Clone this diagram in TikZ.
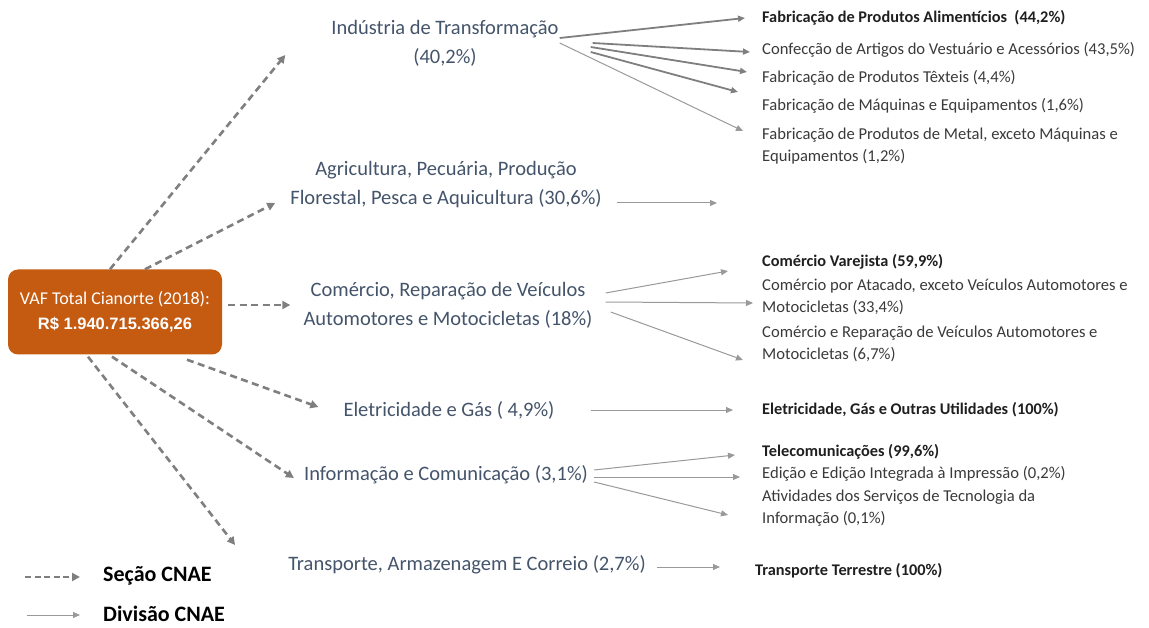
\documentclass[tikz,border=0pt]{standalone}
\usepackage{fontspec}
\setmainfont{Carlito}
\newfontfamily\arialfont{Liberation Sans}
\usetikzlibrary{arrows.meta}
\definecolor{vafOrange}{HTML}{C55A11}
\definecolor{secText}{HTML}{44546A}
\definecolor{divText}{HTML}{3A3A3A}
\definecolor{lineGray}{HTML}{7F7F7F}
\tikzset{
  secao/.style={draw=lineGray,line width=2.6pt,dash pattern=on 7pt off 4.5pt,-{Triangle[length=8pt,width=8pt]}},
  divisao/.style={draw=lineGray!80,line width=1pt,-{Triangle[length=7pt,width=6pt]}},
  divforte/.style={divisao,draw=lineGray,line width=1.8pt},
  secnode/.style={text=secText,font=\fontsize{20.5}{29}\selectfont,align=center,inner sep=1pt},
  divnode/.style={text=divText,font=\fontsize{16.6}{22}\selectfont,align=left,anchor=west,inner sep=0pt},
  divbold/.style={divnode,text=black!88,font=\fontsize{16.3}{22}\selectfont\bfseries},
  legnode/.style={anchor=west,inner sep=0pt,font=\fontsize{22}{24}\selectfont\bfseries},
}
\begin{document}
\begin{tikzpicture}[x=1pt,y=-1pt,line join=round]
  \useasboundingbox (0,0) rectangle (1149,628);
  % total
  \node[fill=vafOrange,rounded corners=10pt,minimum width=214pt,minimum height=85pt,
        text=white,align=center,font=\fontsize{18}{25}\selectfont] (vaf) at (115,312)
        {VAF Total Cianorte (2018):\\{\arialfont\bfseries\fontsize{16.5}{25}\selectfont R\$ 1.940.715.366,26}};
  % secoes
  \node[secnode] (ind) at (445,43) {Indústria de Transformação\\(40,2\%)};
  \node[secnode] (agr) at (446,185) {Agricultura, Pecuária, Produção\\Florestal, Pesca e Aquicultura (30,6\%)};
  \node[secnode] (com) at (448,305) {Comércio, Reparação de Veículos\\Automotores e Motocicletas (18\%)};
  \node[secnode] (ele) at (449,410) {Eletricidade e Gás ( 4,9\%)};
  \node[secnode] (inf) at (446,475) {Informação e Comunicação (3,1\%)};
  \node[secnode] (tra) at (467,565) {Transporte, Armazenagem E Correio (2,7\%)};
  % divisoes
  \node[divbold] (d-ali) at (762,18) {Fabricação de Produtos Alimentícios~~(44,2\%)};
  \node[divnode] (d-con) at (762,50) {Confecção de Artigos do Vestuário e Acessórios (43,5\%)};
  \node[divnode] (d-tex) at (762,78) {Fabricação de Produtos Têxteis (4,4\%)};
  \node[divnode] (d-maq) at (762,106) {Fabricação de Máquinas e Equipamentos (1,6\%)};
  \node[divnode] (d-met) at (762,146) {Fabricação de Produtos de Metal, exceto Máquinas e\\Equipamentos (1,2\%)};
  \node[divbold] (d-var) at (762,262) {Comércio Varejista (59,9\%)};
  \node[divnode] (d-ata) at (762,297) {Comércio por Atacado, exceto Veículos Automotores e\\Motocicletas (33,4\%)};
  \node[divnode] (d-rep) at (762,344) {Comércio e Reparação de Veículos Automotores e\\Motocicletas (6,7\%)};
  \node[divbold] (d-egu) at (762,410) {Eletricidade, Gás e Outras Utilidades (100\%)};
  \node[divbold] (d-tel) at (762,452) {Telecomunicações (99,6\%)};
  \node[divnode] (d-edi) at (762,474) {Edição e Edição Integrada à Impressão (0,2\%)};
  \node[divnode] (d-ati) at (762,508) {Atividades dos Serviços de Tecnologia da\\Informação (0,1\%)};
  \node[divbold] (d-ter) at (755,571) {Transporte Terrestre (100\%)};
  \coordinate (agr-fim) at (717,203);
  % total -> secoes
  \draw[secao] ([xshift=-5pt]vaf.north) -- ([xshift=-45pt,yshift=-12pt]ind.west);
  \draw[secao] ([xshift=30pt]vaf.north) -- ([xshift=-14pt,yshift=-18pt]agr.west);
  \draw[secao] ([xshift=6pt,yshift=7pt]vaf.east) -- ([xshift=-12pt]com.west);
  \draw[secao] ([xshift=72pt,yshift=-5pt]vaf.south) -- ([xshift=-24pt,yshift=3pt]ele.west);
  \draw[secao] ([xshift=-3pt,yshift=-2pt]vaf.south) -- ([xshift=-9pt,yshift=-3pt]inf.west);
  \draw[secao] ([xshift=-27pt,yshift=-2pt]vaf.south) -- ([xshift=-52pt,yshift=20pt]tra.west);
  % secoes -> divisoes
  \draw[divforte] ([yshift=5pt]ind.east) -- ([xshift=-17pt]d-ali.west);
  \draw[divforte] ([xshift=33pt]ind.east) -- ([xshift=-12pt,yshift=-2pt]d-con.west);
  \draw[divforte] ([xshift=31pt,yshift=-4pt]ind.east) -- ([xshift=-15pt,yshift=6pt]d-tex.west);
  \draw[divforte] ([xshift=31pt,yshift=-9pt]ind.east) -- ([xshift=-24pt,yshift=14pt]d-maq.west);
  \draw[divisao] (ind.east) -- ([xshift=-19pt,yshift=15pt]d-met.west);
  \draw[divisao] ([xshift=14pt,yshift=-18pt]agr.east) -- (agr-fim);
  \draw[divisao] ([xshift=12pt,yshift=12pt]com.east) -- ([xshift=-34pt,yshift=-9pt]d-var.west);
  \draw[divisao] ([xshift=12pt,yshift=3pt]com.east) -- ([xshift=-9pt,yshift=-6pt]d-ata.west);
  \draw[divisao] ([xshift=17pt,yshift=-7pt]com.east) -- ([xshift=-19pt,yshift=-16pt]d-rep.west);
  \draw[divisao] ([xshift=35pt]ele.east) -- ([xshift=-29pt]d-egu.west);
  \draw[divisao] ([xshift=5pt,yshift=5pt]inf.east) -- ([xshift=-27pt,yshift=-3pt]d-tel.west);
  \draw[divisao] ([xshift=5pt,yshift=-2pt]inf.east) -- ([xshift=-22pt,yshift=-3pt]d-edi.west);
  \draw[divisao] ([xshift=5pt,yshift=-7pt]inf.east) -- ([xshift=-34pt,yshift=-7pt]d-ati.west);
  \draw[divisao] ([xshift=10pt,yshift=-2pt]tra.east) -- ([xshift=-35pt,yshift=4pt]d-ter.west);
  % legenda
  \node[legnode] (leg-sec) at (103,576) {Seção CNAE};
  \node[legnode] (leg-div) at (103,614) {Divisão CNAE};
  \coordinate (leg-sec-ini) at (25,577);
  \coordinate (leg-div-ini) at (27,615);
  \draw[secao,line width=2pt,dash pattern=on 6pt off 3.5pt] (leg-sec-ini) -- ([xshift=-23pt,yshift=-1pt]leg-sec.west);
  \draw[divisao] (leg-div-ini) -- ([xshift=-23pt,yshift=-1pt]leg-div.west);
\end{tikzpicture}
\end{document}
